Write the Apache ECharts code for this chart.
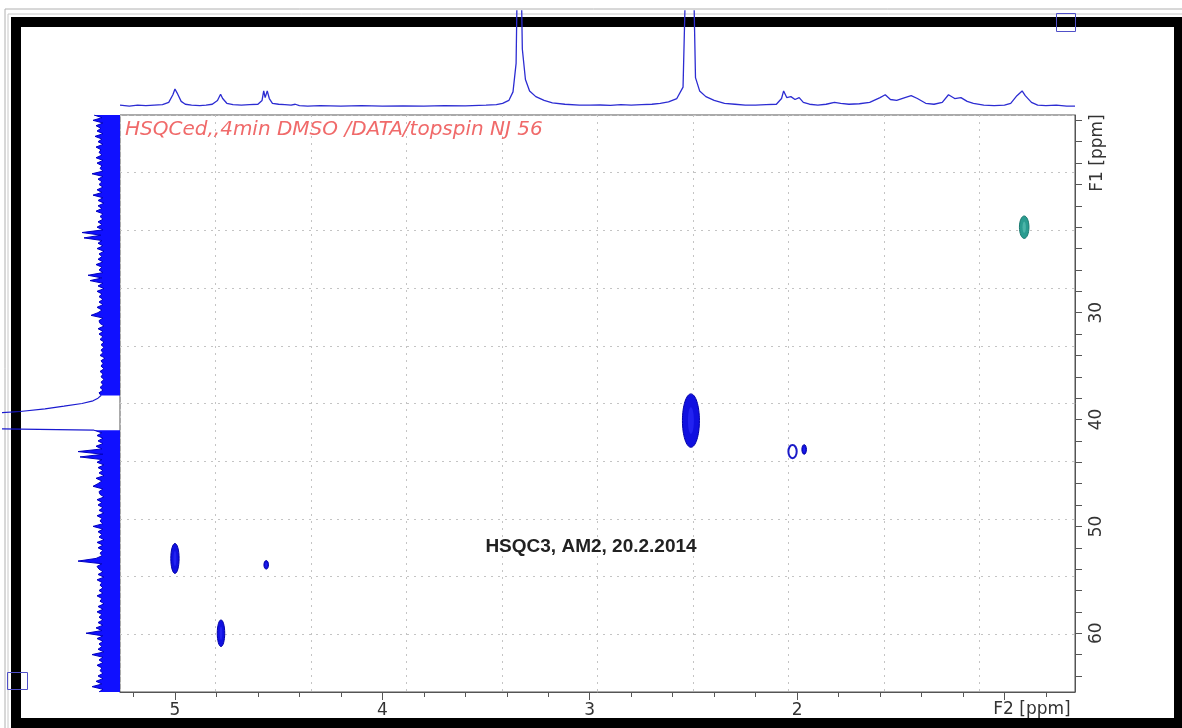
<!DOCTYPE html>
<html><head><meta charset="utf-8">
<script src="https://cdn.jsdelivr.net/npm/echarts@6/dist/echarts.min.js"></script>
<style>html,body{margin:0;padding:0;background:#fff;}#c{width:1182px;height:728px;}</style>
</head><body><div id="c"></div>
<script>
// ---- axes (ppm) ----
const f2Range = [0.66, 5.265];          // 1H, F2
const f1Range = [11.5, 65.5];           // 13C, F1
const f2MinorTicks = [0.8,1.0,1.2,1.4,1.6,1.8,2.0,2.2,2.4,2.6,2.8,3.0,3.2,3.4,3.6,3.8,4.0,4.2,4.4,4.6,4.8,5.0,5.2];
const f2MajorTicks = [1,2,3,4,5];
const f2TickLabels = [2,3,4,5];
const f1Ticks = [12,14,16,18,20,22,24,26,28,30,32,34,36,38,40,42,44,46,48,50,52,54,56,58,60,62,64];
const f1TickLabels = [30,40,50,60];

// ---- cross peaks: [dH, dC, widthH, widthC] ----
const peaksFilled = [
  [2.512, 40.1, 0.082, 5.0],
  [5.000, 53.0, 0.040, 2.8],
  [4.778, 60.0, 0.036, 2.5],
  [4.560, 53.6, 0.022, 0.8],
  [1.966, 42.8, 0.022, 0.9]
];
const peaksRing = [
  [2.022, 43.0, 0.040, 1.25]
];
const peaksCyan = [
  [0.905, 22.0, 0.046, 2.1]
];

// ---- F2 projection (top): [ppm, intensity] ----
const topProjection = [
  [5.265,1],[5.22,0],[5.18,1],[5.14,0.5],[5.10,1],[5.06,1.5],[5.03,4],[5.01,12],[5.00,18],[4.99,14],[4.97,5],[4.95,2],
  [4.92,1],[4.88,0.5],[4.85,1],[4.82,2],[4.795,6],[4.78,12.5],[4.77,8],[4.75,3],[4.72,1.5],[4.68,1],[4.64,1.5],[4.60,2],
  [4.58,6],[4.572,16],[4.565,9],[4.555,16],[4.545,8],[4.53,3],[4.50,2],[4.47,1.5],[4.44,1],[4.42,2],[4.40,0.5],[4.36,0],
  [4.30,0.5],[4.20,0],[4.10,0.5],[4.00,0],[3.90,0.3],[3.80,0],[3.70,0.5],[3.60,0.3],[3.50,1],[3.45,1.5],[3.42,3],[3.39,6],
  [3.37,15],[3.355,45],[3.345,200],[3.335,200],[3.325,60],[3.31,28],[3.29,16],[3.26,10],[3.22,6],[3.18,3.5],[3.12,2],
  [3.05,1],[3.00,1],[2.95,1.2],[2.90,0.8],[2.85,1.5],[2.80,1],[2.75,1.5],[2.70,2],[2.66,3],[2.62,4.5],[2.58,8],[2.55,20],
  [2.53,200],[2.515,150],[2.505,200],[2.49,30],[2.47,16],[2.44,10],[2.40,6],[2.35,3],[2.30,2],[2.25,1],[2.20,1],[2.15,1.5],
  [2.10,2],[2.075,8],[2.065,16],[2.05,9],[2.03,10],[2.01,7],[1.99,9],[1.97,4],[1.94,2],[1.90,1],[1.86,2],[1.82,4],
  [1.79,3],[1.75,2],[1.70,2.5],[1.65,4],[1.60,9],[1.575,12],[1.55,7],[1.52,6],[1.48,9],[1.45,11],[1.42,8],[1.38,3],
  [1.34,2],[1.30,4],[1.27,12],[1.24,8],[1.21,9],[1.18,5],[1.15,3],[1.10,1],[1.05,0.5],[1.00,1],[0.97,3],[0.94,11],
  [0.915,16],[0.90,11],[0.87,4],[0.84,1],[0.80,0.5],[0.75,1],[0.70,0],[0.66,0]
];

// ---- F1 projection (left): intensities sampled every 0.25 ppm from 11.5 to 65.5 ----
const leftStart = 11.5, leftStep = 0.25;
const leftProjection = [
  26,18,
  27,17,24,19, 23,17,25,18, 22,17,24,19, 21,18,24,17, 23,18,20,17, 28,17,22,18, 21,17,23,18, 27,17,22,16,
  22,18,24,17, 20,17,22,18, 23,17,38,19, 36,18,22,17, 23,16,21,18, 22,17,24,18, 21,17,32,18, 30,17,22,16,
  23,18,21,17, 21,17,23,18, 22,29,17,21, 20,16,22,17, 21,17,20,16, 19,16,19,17, 20,15,19,17, 19,16,20,17,
  19,16,19,17, 20,17,21,19, 22,27,38,56, 75,100,140,200, 200,200,200,200, 26,18,23,17, 22,17,24,18, 42,17,40,18,
  23,16,22,17, 21,16,24,18, 22,27,17,21, 20,16,23,18, 22,17,21,16, 23,18,20,17, 27,17,22,18, 21,16,23,17,
  22,17,20,18, 24,42,18,23, 21,17,22,16, 23,18,20,17, 21,17,23,18, 20,16,22,17, 23,18,21,17, 22,17,24,18,
  34,17,23,17, 21,18,22,16, 28,17,21,17, 23,18,20,17, 22,17,24,18,
  28,17,21
];
const leftPpm = leftProjection.map((v, i) => (leftStart + i * leftStep).toFixed(2));
const dmsoFrom = leftPpm.indexOf('37.75'), dmsoTo = leftPpm.indexOf('41.00');
const leftUpper = leftProjection.map((v, i) => i <= dmsoFrom ? v : '-');
const leftDmso = leftProjection.map((v, i) => (i >= dmsoFrom && i <= dmsoTo) ? v : '-');
const leftLower = leftProjection.map((v, i) => i >= dmsoTo ? v : '-');

const chart = echarts.init(document.getElementById('c'), null, {renderer: 'canvas'});

function peakRenderer(fill, stroke, inner, hollow) {
  return function (params, api) {
    const c = api.coord([api.value(0), api.value(1)]);
    const s = api.size([api.value(2), api.value(3)]);
    const rx = Math.abs(s[0]) / 2, ry = Math.abs(s[1]) / 2;
    const children = [{
      type: 'ellipse',
      shape: {cx: c[0], cy: c[1], rx: rx, ry: ry},
      style: hollow ? {fill: 'none', stroke: stroke, lineWidth: 2} : {fill: fill, stroke: stroke, lineWidth: 1}
    }];
    if (!hollow) {
      children.push({type: 'ellipse', shape: {cx: c[0], cy: c[1], rx: rx * 0.35, ry: ry * 0.5}, style: {fill: inner}});
    }
    return {type: 'group', children: children};
  };
}

const axisFont = {fontFamily: 'DejaVu Sans', fontSize: 17, color: '#333'};
const noZero = {onZero: false};

const option = {
  animation: false,
  backgroundColor: '#fff',
  grid: [
    {left: 120, top: 115, width: 955, height: 577, show: true, borderColor: '#555', borderWidth: 1, backgroundColor: 'transparent', outerBoundsMode: 'none'},
    {left: 120, top: 11, width: 955, height: 98, outerBoundsMode: 'none'},
    {left: 3, top: 115, width: 117, height: 577, outerBoundsMode: 'none'}
  ],
  xAxis: [
    {gridIndex: 0, type: 'value', min: f2Range[0], max: f2Range[1], inverse: true, position: 'bottom',
     axisLine: {show: true, onZero: false, lineStyle: {color: '#555'}},
     axisTick: {show: true, customValues: f2MinorTicks, length: 5, lineStyle: {color: '#555'}},
     axisLabel: {show: false}, splitLine: {show: false}},
    {gridIndex: 0, type: 'value', min: f2Range[0], max: f2Range[1], inverse: true, position: 'bottom',
     axisLine: {show: false, onZero: false},
     axisTick: {show: true, customValues: f2MajorTicks, length: 8, lineStyle: {color: '#555'}},
     axisLabel: Object.assign({show: true, customValues: f2TickLabels, margin: 10}, axisFont),
     splitLine: {show: false}},
    {gridIndex: 0, type: 'value', min: 0, max: 10, interval: 1, position: 'top',
     axisLine: {show: false, onZero: false}, axisTick: {show: false}, axisLabel: {show: false},
     splitLine: {show: true, lineStyle: {color: '#c4c4c4', type: [2, 5], width: 1}}},
    {gridIndex: 1, type: 'value', min: f2Range[0], max: f2Range[1], inverse: true, show: false, axisLine: noZero},
    {gridIndex: 2, type: 'value', min: 0, max: 117, inverse: true, show: false, axisLine: noZero}
  ],
  yAxis: [
    {gridIndex: 0, type: 'value', min: f1Range[0], max: f1Range[1], inverse: true, position: 'right',
     axisLine: {show: true, onZero: false, lineStyle: {color: '#555'}},
     axisTick: {show: true, customValues: f1Ticks, length: 7, lineStyle: {color: '#555'}},
     axisLabel: Object.assign({show: true, customValues: f1TickLabels, rotate: 90, margin: 13}, axisFont),
     splitLine: {show: false}},
    {gridIndex: 0, type: 'value', min: 0, max: 10, interval: 1, position: 'left',
     axisLine: {show: false, onZero: false}, axisTick: {show: false}, axisLabel: {show: false},
     splitLine: {show: true, lineStyle: {color: '#c4c4c4', type: [2, 5], width: 1}}},
    {gridIndex: 1, type: 'value', min: -3, max: 100, show: false, axisLine: noZero},
    {gridIndex: 2, type: 'category', data: leftPpm, boundaryGap: false, inverse: true, show: false,
     axisLine: {show: false, onZero: false}, axisTick: {show: false}, axisLabel: {show: false}}
  ],
  graphic: [
    // window frame
    {type: 'line', z: 0, shape: {x1: 5, y1: 9, x2: 1182, y2: 9}, style: {stroke: '#b0b0b0', lineWidth: 1}},
    {type: 'line', z: 0, shape: {x1: 5, y1: 9, x2: 5, y2: 728}, style: {stroke: '#b0b0b0', lineWidth: 1}},
    {type: 'line', z: 0, shape: {x1: 8, y1: 14, x2: 1182, y2: 14}, style: {stroke: '#c8c8c8', lineWidth: 1}},
    {type: 'line', z: 0, shape: {x1: 8, y1: 14, x2: 8, y2: 728}, style: {stroke: '#c8c8c8', lineWidth: 1}},
    {type: 'rect', z: 0, shape: {x: 11, y: 17, width: 1171, height: 10}, style: {fill: '#000'}},
    {type: 'rect', z: 0, shape: {x: 11, y: 17, width: 10, height: 711}, style: {fill: '#000'}},
    {type: 'rect', z: 0, shape: {x: 1174, y: 17, width: 8, height: 711}, style: {fill: '#000'}},
    {type: 'rect', z: 0, shape: {x: 11, y: 718, width: 1171, height: 10}, style: {fill: '#000'}},
    {type: 'rect', z: 1, shape: {x: 1056.5, y: 13.5, width: 19, height: 18}, style: {fill: 'none', stroke: '#5050c8', lineWidth: 1}},
    {type: 'rect', z: 1, shape: {x: 7.5, y: 672.5, width: 20, height: 17}, style: {fill: 'none', stroke: '#5050c8', lineWidth: 1}},
    // texts
    {type: 'text', z: 5, x: 125, y: 130, style: {text: 'HSQCed,,4min DMSO /DATA/topspin NJ 56', fill: '#f06a6a',
      font: 'oblique 20px "DejaVu Sans"', textVerticalAlign: 'middle'}},
    {type: 'text', z: 5, x: 591, y: 547, style: {text: 'HSQC3, AM2, 20.2.2014', fill: '#222',
      font: 'bold 19px "Liberation Sans"', textAlign: 'center', textVerticalAlign: 'middle'}},
    {type: 'text', z: 5, x: 1032, y: 710, style: {text: 'F2 [ppm]', fill: '#333',
      font: '17px "DejaVu Sans"', textAlign: 'center', textVerticalAlign: 'middle'}},
    {type: 'text', z: 5, x: 1098, y: 153, rotation: Math.PI / 2, style: {text: 'F1 [ppm]', fill: '#333',
      font: '17px "DejaVu Sans"', textAlign: 'center', textVerticalAlign: 'middle'}}
  ],
  series: [
    {type: 'line', name: 'F2 projection', xAxisIndex: 3, yAxisIndex: 2, data: topProjection,
     showSymbol: false, symbol: 'none', clip: true, lineStyle: {color: '#2c2cd2', width: 1.3}},
    {type: 'line', name: 'F1 upper', xAxisIndex: 4, yAxisIndex: 3, data: leftUpper, symbol: 'none', clip: true,
     lineStyle: {color: '#0000c0', width: 1}, areaStyle: {color: '#1010ff', opacity: 1}},
    {type: 'line', name: 'F1 DMSO', xAxisIndex: 4, yAxisIndex: 3, data: leftDmso, symbol: 'none', clip: true,
     lineStyle: {color: '#1a1ad0', width: 1.2}},
    {type: 'line', name: 'F1 lower', xAxisIndex: 4, yAxisIndex: 3, data: leftLower, symbol: 'none', clip: true,
     lineStyle: {color: '#0000c0', width: 1}, areaStyle: {color: '#1010ff', opacity: 1}},
    {type: 'custom', name: 'peaks', xAxisIndex: 0, yAxisIndex: 0, data: peaksFilled,
     renderItem: peakRenderer('#1010e0', '#0000a8', '#2222f0', false)},
    {type: 'custom', name: 'ring', xAxisIndex: 0, yAxisIndex: 0, data: peaksRing,
     renderItem: peakRenderer('none', '#1a1ac8', null, true)},
    {type: 'custom', name: 'cyan', xAxisIndex: 0, yAxisIndex: 0, data: peaksCyan,
     renderItem: peakRenderer('#2a9c90', '#1a7a70', '#4bb4a8', false)}
  ]
};
chart.setOption(option);
</script>
</body></html>
